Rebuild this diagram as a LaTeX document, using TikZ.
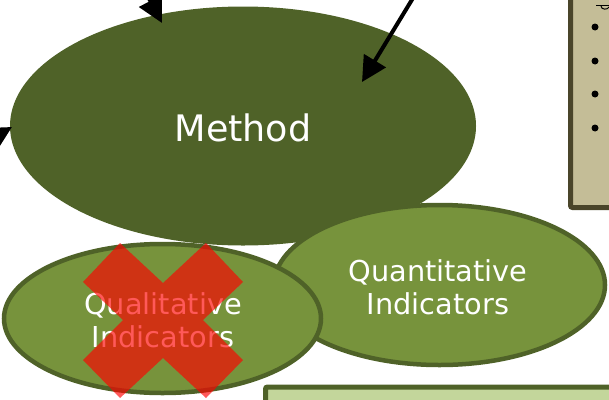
\documentclass[tikz,border=0pt]{standalone}
\usepackage{fontspec}
\setmainfont{DejaVu Sans}
\usetikzlibrary{arrows.meta,shapes.geometric}

\definecolor{methodgreen}{RGB}{79,98,40}
\definecolor{indfill}{RGB}{119,147,60}
\definecolor{notebeige}{RGB}{196,189,151}
\definecolor{noteedge}{RGB}{74,69,42}
\definecolor{lightgreen}{RGB}{195,214,155}

\tikzset{
  bigellipse/.style={ellipse, inner sep=0pt, fill=methodgreen},
  indellipse/.style={ellipse, inner sep=0pt, fill=indfill, draw=methodgreen,
    line width=4.5pt},
  indtext/.style={text=white, align=center, font=\fontsize{28.8}{33}\selectfont},
  flowarrow/.style={line width=4pt, -{Triangle[length=25pt,width=25pt]}},
  cross/.style={fill=red, fill opacity=0.65},
  bullet/.style={circle, fill=black, inner sep=0pt, minimum size=7pt}
}

\begin{document}
\begin{tikzpicture}[x=1pt,y=-1pt]
\useasboundingbox (0,0) rectangle (609,399);
\clip (0,0) rectangle (609,399);

% central method ellipse
\node[bigellipse, minimum width=466pt, minimum height=239pt] (method) at (243,126) {};
\node[text=white, font=\fontsize{36.5}{40}\selectfont] (methodlabel) at (243,128) {Method};

% arrows pointing into the method
\coordinate (srcA) at (134,-30);
\coordinate (tipA) at (162,23);
\coordinate (srcB) at (430,-30);
\coordinate (tipB) at (362,82);
\coordinate (srcC) at (-75,177);
\coordinate (tipC) at (12,127);
\draw[flowarrow] (srcA) -- (tipA);
\draw[flowarrow] (srcB) -- (tipB);
\draw[flowarrow] (srcC) -- (tipC);

% note box at the upper right
\draw[fill=notebeige, draw=noteedge, line width=5pt, rounded corners=2pt]
  (570.5,-20) rectangle (640,207.5);
\coordinate (ulA) at (596,5);
\coordinate (ulB) at (612,5);
\draw[line width=1pt] (ulA) -- (ulB);
\draw[line width=1pt] (601,6) .. controls (601,10) and (608,10) .. (609,7);
\foreach \i/\y in {1/27,2/61,3/94,4/128}
  \node[bullet] (b\i) at (595,\y) {};

% indicator ellipses
\node[indellipse, minimum width=331pt, minimum height=160pt] (quant) at (439.5,285) {};
\node[indtext] (quanttext) at (438,287) {Quantitative\\Indicators};
\node[indellipse, minimum width=317pt, minimum height=149pt] (qual) at (162.5,318.5) {};
\node[indtext] (qualtext) at (163,320) {Qualitative\\Indicators};

% crossing out
\path[cross] (120,243) -- (163,283) -- (206,243) -- (243,282) -- (203,320)
  -- (243,360) -- (206,398) -- (163,358) -- (120,398) -- (83,360)
  -- (123,320) -- (83,282) -- cycle;

% box at the bottom
\draw[fill=lightgreen, draw=methodgreen, line width=5pt, rounded corners=2pt]
  (265.5,387) rectangle (640,430);
\end{tikzpicture}
\end{document}
